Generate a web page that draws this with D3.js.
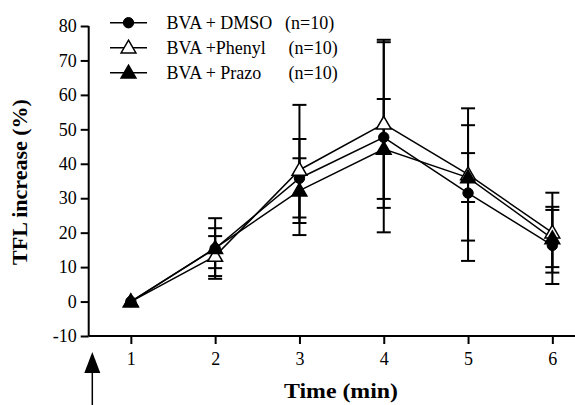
<!DOCTYPE html>
<html>
<head>
<meta charset="utf-8">
<script src="https://cdn.jsdelivr.net/npm/d3@7"></script>
<style>
  body { margin: 0; background: #fff; }
  text { font-family: "Liberation Serif", "Times New Roman", serif; fill: #000; }
</style>
</head>
<body>
<div id="plot"></div>
<script>
"use-strict";

// time points (min)
const times = [1, 2, 3, 4, 5, 6];
const seriesNames = ["BVA + DMSO", "BVA +Phenyl", "BVA + Prazo"];
const nLabels = ["(n=10)", "(n=10)", "(n=10)"];

// mean TFL increase (%) and SEM
const dmsoMean = [0, 15.4, 35.8, 47.7, 31.5, 16.3];
const dmsoErr = [0, 8.8, 11.4, 27.6, 19.7, 11.2];
const phenylMean = [0, 13.2, 38.2, 51.6, 36.9, 20.0];
const phenylErr = [0, 5.8, 18.9, 24.4, 19.2, 11.6];
const prazoMean = [0, 15.5, 32.2, 44.3, 36.0, 18.3];
const prazoErr = [0, 5.8, 9.4, 14.5, 7.1, 8.3];

const yTicks = [-10, 0, 10, 20, 30, 40, 50, 60, 70, 80];

const msm = {
    width: 575,
    height: 405,
    left: 88.7,
    top: 26,
    bottom: 336,
}

let svg = d3.select("#plot")
    .append("svg")
    .attr("width", msm.width)
    .attr("height", msm.height);

let xScale = d3.scaleLinear()
    .domain([0.5, 6.5])
    .range([msm.left, msm.left + 6 * 84.3]);

let yScale = d3.scaleLinear()
    .domain([-10, 80])
    .range([msm.bottom, msm.top]);

const series = [
    { name: seriesNames[0], n: nLabels[0], mean: dmsoMean, err: dmsoErr, shape: "circle", fill: "black" },
    { name: seriesNames[1], n: nLabels[1], mean: phenylMean, err: phenylErr, shape: "triangle", fill: "white" },
    { name: seriesNames[2], n: nLabels[2], mean: prazoMean, err: prazoErr, shape: "triangle", fill: "black" },
];

// axes
let xAxis = d3.axisBottom(xScale).tickValues(times).tickSize(8).tickPadding(8).tickFormat(d => String(d));
let gx = svg.append("g")
    .attr("transform", "translate(0," + msm.bottom + ")")
    .call(xAxis);

let yAxis = d3.axisLeft(yScale).tickValues(yTicks).tickSize(8).tickPadding(4).tickFormat(d => String(d));
let gy = svg.append("g")
    .attr("transform", "translate(" + msm.left + ",0)")
    .call(yAxis);

[gx, gy].forEach(g => {
    g.attr("font-family", "Liberation Serif").attr("font-size", 18);
    g.select(".domain").attr("stroke", "black").attr("stroke-width", 2);
    g.selectAll(".tick line").attr("stroke", "black").attr("stroke-width", 2);
    g.selectAll(".tick text").attr("fill", "black");
});
gy.select(".domain").attr("d", "M0," + msm.bottom + "V" + msm.top);
gx.select(".domain").attr("d", "M" + msm.left + ",0H" + msm.width);

// axis labels
svg.append("text")
    .attr("x", 341)
    .attr("y", 398)
    .attr("text-anchor", "middle")
    .attr("textLength", 114)
    .attr("lengthAdjust", "spacingAndGlyphs")
    .style("font-size", "22px")
    .style("font-weight", "bold")
    .text("Time (min)");

svg.append("text")
    .attr("transform", "translate(26.5,182) rotate(-90)")
    .attr("text-anchor", "middle")
    .style("font-size", "22px")
    .style("font-weight", "bold")
    .text("TFL increase (%)");

// injection arrow
let ax = xScale(0.5) + 3.6;
svg.append("line")
    .attr("x1", ax).attr("x2", ax)
    .attr("y1", 368).attr("y2", 405)
    .attr("stroke", "black").attr("stroke-width", 1.5);
svg.append("path")
    .attr("d", "M" + ax + ",352 L" + (ax - 8) + ",373 L" + (ax + 8) + ",373 Z")
    .attr("fill", "black");

const triangle = d3.symbol().type(d3.symbolTriangle).size(95);

function drawMarker(g, s, x, y) {
    if (s.shape === "circle") {
        g.append("circle")
            .attr("cx", x).attr("cy", y).attr("r", 5.2)
            .attr("fill", s.fill).attr("stroke", "black").attr("stroke-width", 1);
    } else {
        g.append("path")
            .attr("d", triangle())
            .attr("transform", "translate(" + x + "," + (y + 1) + ")")
            .attr("fill", s.fill).attr("stroke", "black").attr("stroke-width", 1.5);
    }
}

let line = d3.line()
    .x((d, i) => xScale(times[i]))
    .y(d => yScale(d));

// lines
series.forEach(s => {
    svg.append("path")
        .datum(s.mean)
        .attr("d", line)
        .attr("fill", "none")
        .attr("stroke", "black")
        .attr("stroke-width", 1.5);
});

// error bars
series.forEach(s => {
    let g = svg.append("g");
    times.forEach((t, i) => {
        if (s.err[i] === 0) return;
        let x = xScale(t);
        let hi = yScale(s.mean[i] + s.err[i]);
        let lo = yScale(s.mean[i] - s.err[i]);
        g.append("line").attr("x1", x).attr("x2", x).attr("y1", hi).attr("y2", lo)
            .attr("stroke", "black").attr("stroke-width", 2);
        [hi, lo].forEach(yy => {
            g.append("line").attr("x1", x - 7).attr("x2", x + 7).attr("y1", yy).attr("y2", yy)
                .attr("stroke", "black").attr("stroke-width", 2);
        });
    });
});

// markers
series.forEach(s => {
    let g = svg.append("g");
    times.forEach((t, i) => drawMarker(g, s, xScale(t), yScale(s.mean[i])));
});

// legend
series.forEach((s, i) => {
    let y = 22.7 + i * 25;
    let g = svg.append("g");
    g.append("line").attr("x1", 110).attr("x2", 147).attr("y1", y).attr("y2", y)
        .attr("stroke", "black").attr("stroke-width", 1.5);
    drawMarker(g, s, 128.5, y);
    g.append("text")
        .attr("x", 166.5).attr("y", y + 6)
        .style("font-size", "18px")
        .text(s.name);
    g.append("text")
        .attr("x", i === 0 ? 285 : 288.5).attr("y", y + 6)
        .style("font-size", "18px")
        .text(s.n);
});
</script>
</body>
</html>
